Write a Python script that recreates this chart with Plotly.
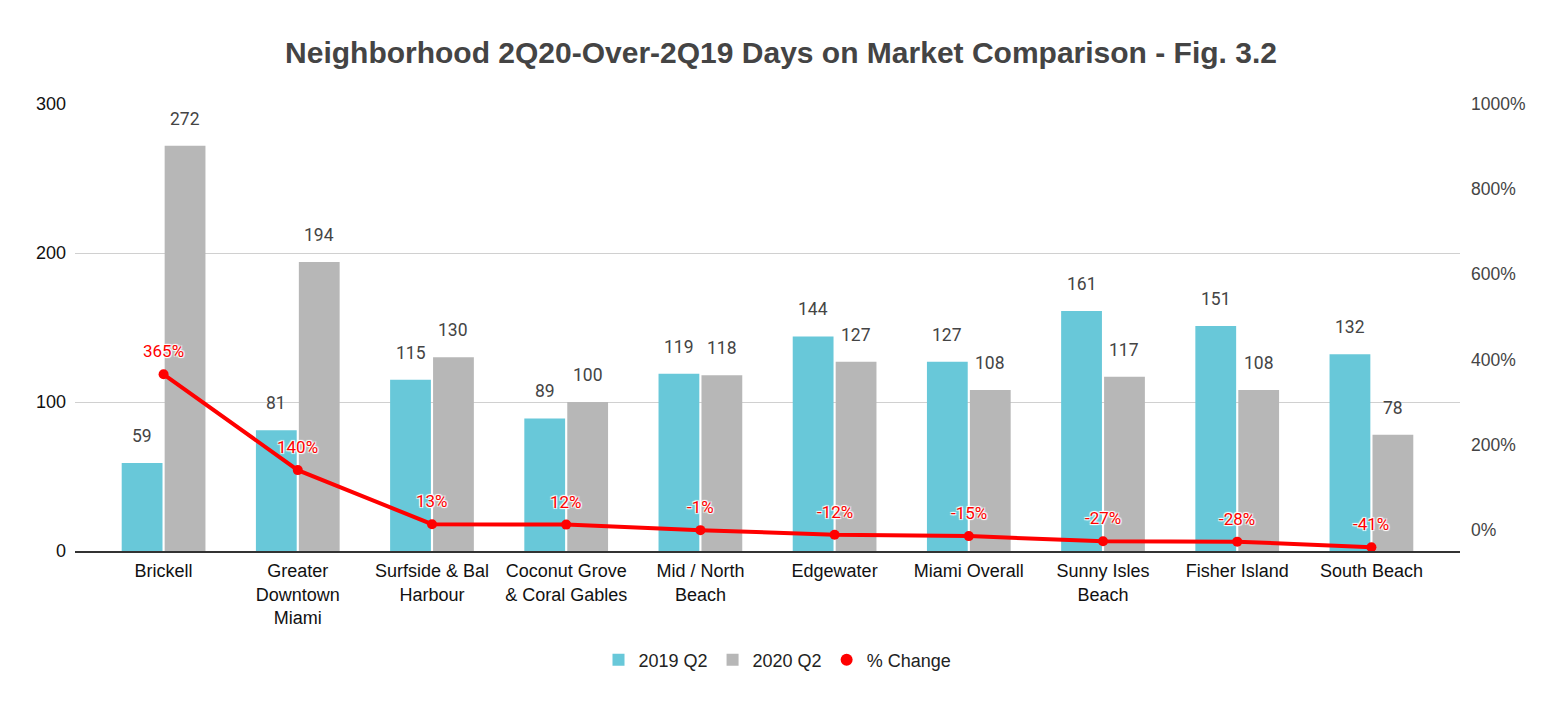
import plotly.graph_objects as go

categories = ["Brickell", "Greater<br>Downtown<br>Miami", "Surfside & Bal<br>Harbour",
              "Coconut Grove<br>& Coral Gables", "Mid / North<br>Beach", "Edgewater",
              "Miami Overall", "Sunny Isles<br>Beach", "Fisher Island", "South Beach"]
q2_2019 = [59, 81, 115, 89, 119, 144, 127, 161, 151, 132]
q2_2020 = [272, 194, 130, 100, 118, 127, 108, 117, 108, 78]
pct_change = [365, 140, 13, 12, -1, -12, -15, -27, -28, -41]
pct_ticks = [0, 200, 400, 600, 800, 1000]

BLUE = "#68C8D9"
GRAY = "#B7B7B7"
RED = "#FF0000"

W, H = 1562, 705
PAGE_OFF = 8
ML, MR, MT, MB = 75 - PAGE_OFF, 102 + PAGE_OFF, 104 - PAGE_OFF, 154 + PAGE_OFF
XR = [-0.66, len(categories) - 1 + 0.66]
BARGAP = 0.36
plot_w = W - ML - MR
cat_px = plot_w / (XR[1] - XR[0])
off = cat_px * (1 - BARGAP) / 4

fig = go.Figure()
fig.add_trace(go.Bar(x=categories, y=q2_2019, name="2019 Q2", marker_color=BLUE,
                     marker_line_width=0))
fig.add_trace(go.Bar(x=categories, y=q2_2020, name="2020 Q2", marker_color=GRAY,
                     marker_line_width=0))
fig.add_trace(go.Scatter(x=categories, y=pct_change, yaxis="y2", mode="lines+markers",
                         line=dict(color=RED, width=4), marker=dict(color=RED, size=10),
                         showlegend=False, name="% Change"))
fig.add_trace(go.Scatter(x=[None], y=[None], yaxis="y2", mode="markers",
                         marker=dict(color=RED, size=12), name="% Change"))

halo = "1px 1px 1px white, -1px -1px 1px white, 1px -1px 1px white, -1px 1px 1px white"
ann = []
for c, a, b in zip(categories, q2_2019, q2_2020):
    for v, s in ((a, -off), (b, off)):
        ann.append(dict(x=c, y=v, xref="x", yref="y", text=str(v), showarrow=False,
                        xshift=s, yshift=27, yanchor="middle",
                        font=dict(family="Roboto", size=17.5, color="#444444")))
for c, p in zip(categories, pct_change):
    ann.append(dict(x=c, y=p, xref="x", yref="y2", text=f"{p}%", showarrow=False,
                    yshift=23, yanchor="middle",
                    font=dict(family="Roboto", size=17, color=RED, shadow=halo)))

fig.update_layout(
    width=W, height=H,
    margin=dict(l=ML, r=MR, t=MT, b=MB),
    paper_bgcolor="white", plot_bgcolor="white",
    barmode="group", bargap=BARGAP, bargroupgap=0.05,
    title=dict(text="<b>Neighborhood 2Q20-Over-2Q19 Days on Market Comparison - Fig. 3.2</b>",
               x=(781 - PAGE_OFF) / W, xanchor="center", xref="container",
               y=1 - (52 - PAGE_OFF) / H, yanchor="middle",
               font=dict(family="Liberation Sans", size=30, color="#444444")),
    xaxis=dict(range=XR, showline=True, linecolor="#333333", linewidth=1.5,
               ticks="", tickfont=dict(family="Liberation Sans", size=18, color="#111111"),
               showgrid=False, ticklabelstandoff=3),
    yaxis=dict(range=[0, 300], tickvals=[0, 100, 200, 300], showgrid=True,
               gridcolor="#D0D0D0", gridwidth=1, zeroline=False,
               tickfont=dict(family="Liberation Sans", size=18, color="#111111"),
               ticklabelstandoff=8),
    yaxis2=dict(range=[-50, 1000], tickvals=pct_ticks,
                ticktext=[f"{t}%" for t in pct_ticks],
                overlaying="y", side="right", showgrid=False,
                zeroline=False, ticklabelstandoff=10,
                tickfont=dict(family="Liberation Sans", size=17.5, color="#444444")),
    legend=dict(orientation="h", x=0.5 + 10 / plot_w, xanchor="center", xref="paper",
                y=-0.244, yanchor="middle",
                font=dict(family="Liberation Sans", size=18, color="#222222"),
                itemsizing="constant"),
    annotations=ann,
)

fig.write_html("out.html")
